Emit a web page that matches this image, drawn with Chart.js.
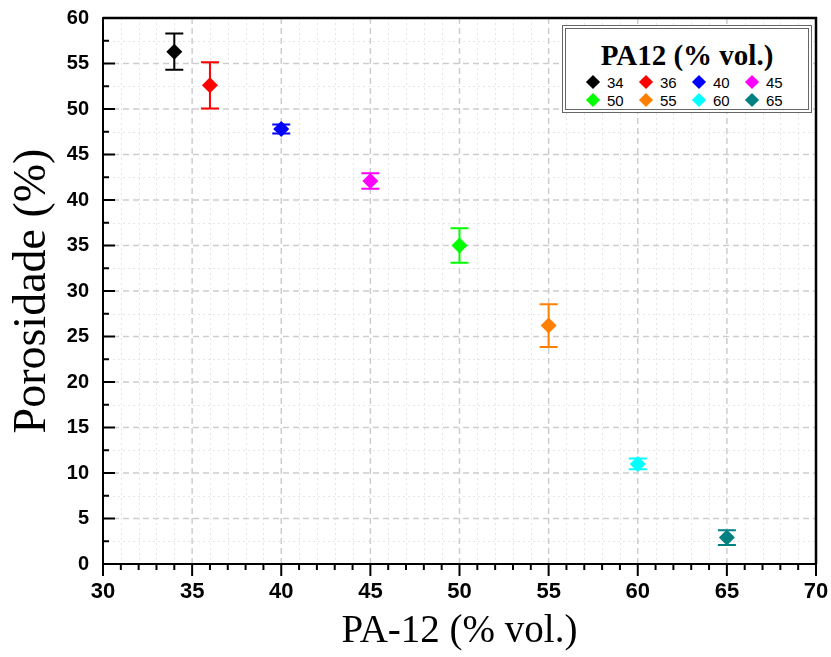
<!DOCTYPE html>
<html>
<head>
<meta charset="utf-8">
<script src="https://cdn.jsdelivr.net/npm/chart.js@4.4.1/dist/chart.umd.min.js"></script>
<style>
  html, body { margin: 0; padding: 0; background: #fff; }
  #wrap { position: relative; width: 831px; height: 657px; }
  #legend {
    position: absolute; left: 562px; top: 25px; width: 242px; height: 80px;
    border: 4px double #666; background: #fff; box-sizing: content-box;
  }
  #legend .ttl {
    font: bold 29px "Liberation Serif", serif; text-align: center;
    margin-top: 11px; line-height: 30px; color: #000;
  }
  #legend .grid {
    display: grid; grid-template-columns: repeat(4, 53px); row-gap: 0px;
    margin-left: 20px; margin-top: 3px;
  }
  #legend .item { display: flex; align-items: center; height: 18px; font: 15px "Liberation Sans", Arial, sans-serif; color: #000; }
  #legend .mk { width: 10px; height: 10px; transform: rotate(45deg); margin: 0 9px 0 2px; }
</style>
</head>
<body>
<div id="wrap">
  <canvas id="c" width="831" height="657"></canvas>
  <div id="legend"><div class="ttl">PA12 (% vol.)</div><div class="grid" id="lgrid"></div></div>
</div>
<script>
// ---- data ----
const categories = ['34', '36', '40', '45', '50', '55', '60', '65'];
const pa12 = [34, 36, 40, 45, 50, 55, 60, 65];
const porosity = [56.3, 52.6, 47.8, 42.1, 35.0, 26.2, 11.0, 2.9];
const errors = [2.0, 2.55, 0.5, 0.85, 1.9, 2.35, 0.6, 0.8];
const xTicks = [30, 35, 40, 45, 50, 55, 60, 65, 70];
const yTicks = [0, 5, 10, 15, 20, 25, 30, 35, 40, 45, 50, 55, 60];
// ---- styles ----
const colors = ['#000000', '#ff0000', '#0000ff', '#ff00ff', '#00ff00', '#ff8000', '#00ffff', '#008080'];

const datasets = categories.map((c, i) => ({
  label: c,
  data: [{ x: pa12[i], y: porosity[i], err: errors[i] }],
  backgroundColor: colors[i],
  borderColor: colors[i],
  pointStyle: 'rectRot',
  pointRadius: 8,
  pointHoverRadius: 8,
  borderWidth: 0
}));

const decor = {
  id: 'decor',
  beforeDraw(chart) {
    const { ctx, chartArea: a, scales: { x, y } } = chart;
    ctx.save();
    ctx.fillStyle = '#fff';
    ctx.fillRect(0, 0, chart.width, chart.height);
    // minor dotted grid
    ctx.strokeStyle = '#e6e6e6';
    ctx.lineWidth = 1;
    ctx.setLineDash([2, 3]);
    for (let v = x.min + 1; v < x.max; v += 1) {
      if (v % 5 === 0) continue;
      const px = Math.round(x.getPixelForValue(v)) + 0.5;
      ctx.beginPath(); ctx.moveTo(px, a.top); ctx.lineTo(px, a.bottom); ctx.stroke();
    }
    for (let v = y.min + 2.5; v < y.max; v += 5) {
      const py = Math.round(y.getPixelForValue(v)) + 0.5;
      ctx.beginPath(); ctx.moveTo(a.left, py); ctx.lineTo(a.right, py); ctx.stroke();
    }
    // major dashed grid
    ctx.strokeStyle = '#cdcdcd';
    ctx.lineWidth = 1.5;
    ctx.setLineDash([6, 4]);
    xTicks.forEach(v => {
      if (v === x.min || v === x.max) return;
      const px = x.getPixelForValue(v);
      ctx.beginPath(); ctx.moveTo(px, a.top); ctx.lineTo(px, a.bottom); ctx.stroke();
    });
    yTicks.forEach(v => {
      if (v === y.min || v === y.max) return;
      const py = y.getPixelForValue(v);
      ctx.beginPath(); ctx.moveTo(a.left, py); ctx.lineTo(a.right, py); ctx.stroke();
    });
    ctx.restore();
  },
  beforeDatasetsDraw(chart) {
    const { ctx, scales: { x, y } } = chart;
    ctx.save();
    ctx.lineWidth = 2;
    ctx.setLineDash([]);
    chart.data.datasets.forEach(ds => {
      ds.data.forEach(p => {
        const px = x.getPixelForValue(p.x);
        const t = y.getPixelForValue(p.y + p.err);
        const b = y.getPixelForValue(p.y - p.err);
        ctx.strokeStyle = ds.borderColor;
        ctx.beginPath();
        ctx.moveTo(px, t); ctx.lineTo(px, b);
        ctx.moveTo(px - 9, t); ctx.lineTo(px + 9, t);
        ctx.moveTo(px - 9, b); ctx.lineTo(px + 9, b);
        ctx.stroke();
      });
    });
    ctx.restore();
  },
  afterDraw(chart) {
    const { ctx, chartArea: a, scales: { x, y } } = chart;
    ctx.save();
    ctx.strokeStyle = '#000';
    ctx.lineWidth = 2;
    ctx.setLineDash([]);
    // x ticks outward
    for (let v = x.min; v <= x.max; v += 1) {
      const px = x.getPixelForValue(v);
      const len = v % 5 === 0 ? 12 : 6;
      ctx.beginPath(); ctx.moveTo(px, a.bottom); ctx.lineTo(px, a.bottom + len); ctx.stroke();
    }
    // y ticks inward
    for (let v = y.min; v <= y.max; v += 2.5) {
      const py = y.getPixelForValue(v);
      const len = v % 5 === 0 ? 12 : 6;
      ctx.beginPath(); ctx.moveTo(a.left, py); ctx.lineTo(a.left + len, py); ctx.stroke();
    }
    // frame top/right
    ctx.lineWidth = 2.5;
    ctx.beginPath();
    ctx.moveTo(a.left, a.top); ctx.lineTo(a.right, a.top); ctx.lineTo(a.right, a.bottom);
    ctx.stroke();
    ctx.restore();
  }
};

const chart = new Chart(document.getElementById('c'), {
  type: 'scatter',
  data: { datasets },
  plugins: [decor],
  options: {
    responsive: false,
    animation: false,
    events: [],
    layout: { padding: { left: 0, top: 18, right: 15, bottom: 0 } },
    plugins: { legend: { display: false }, tooltip: { enabled: false } },
    scales: {
      x: {
        type: 'linear', min: 30, max: 70,
        afterBuildTicks(s) { s.ticks = xTicks.map(v => ({ value: v })); },
        afterFit(s) { s.height = 93; s.paddingLeft = 0; s.paddingRight = 0; },
        grid: { display: false, drawTicks: false },
        border: { display: true, color: '#000', width: 2 },
        ticks: {
          padding: 15, color: '#000',
          font: { family: "'Liberation Sans Narrow', 'Liberation Sans', Arial, sans-serif", size: 22, weight: 'bold' }
        },
        title: {
          display: true, text: 'PA-12 (% vol.)', color: '#000',
          font: { family: 'Liberation Serif', size: 39 },
          padding: { top: 0, bottom: 2 }
        }
      },
      y: {
        type: 'linear', min: 0, max: 60,
        afterBuildTicks(s) { s.ticks = yTicks.map(v => ({ value: v })); },
        afterFit(s) { s.width = 103; s.paddingTop = 0; s.paddingBottom = 0; },
        grid: { display: false, drawTicks: false },
        border: { display: true, color: '#000', width: 2 },
        ticks: {
          padding: 14, color: '#000',
          font: { family: "'Liberation Sans', Arial, sans-serif", size: 20, weight: 'bold' }
        },
        title: {
          display: true, text: 'Porosidade (%)', color: '#000',
          font: { family: 'Liberation Serif', size: 46 },
          padding: { top: 5, bottom: 0 }
        }
      }
    }
  }
});

// HTML legend built from the chart's datasets
const lg = document.getElementById('lgrid');
chart.data.datasets.forEach(ds => {
  const it = document.createElement('div');
  it.className = 'item';
  const mk = document.createElement('span');
  mk.className = 'mk';
  mk.style.background = ds.backgroundColor;
  const tx = document.createElement('span');
  tx.textContent = ds.label;
  it.appendChild(mk); it.appendChild(tx);
  lg.appendChild(it);
});
</script>
</body>
</html>
